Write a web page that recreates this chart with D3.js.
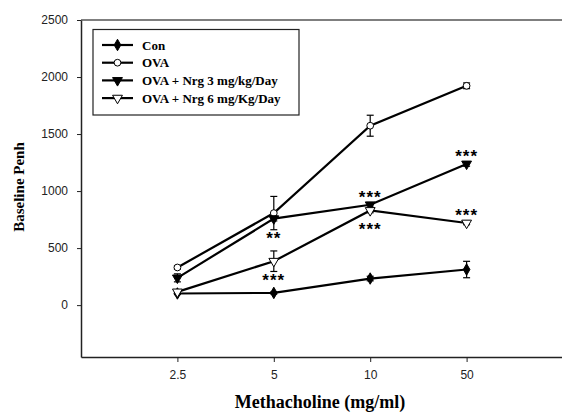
<!DOCTYPE html>
<html>
<head>
<meta charset="utf-8">
<script src="https://cdn.jsdelivr.net/npm/d3@7"></script>
<style>
  body { margin: 0; background: #fff; }
  svg { display: block; }
</style>
</head>
<body>
<div id="chart"></div>
<script>
// data
const doses = ["2.5", "5", "10", "50"];
const yTicks = [0, 500, 1000, 1500, 2000, 2500];
const seriesNames = ["Con", "OVA", "OVA + Nrg 3 mg/kg/Day", "OVA + Nrg 6 mg/Kg/Day"];
const conVals = [102, 107, 233, 312];
const conErr = [10, 10, 20, 72];
const ovaVals = [330, 807, 1573, 1923];
const ovaErr = [15, 146, 92, 25];
const nrg3Vals = [239, 758, 880, 1238];
const nrg3Err = [35, 20, 20, 20];
const nrg6Vals = [116, 385, 830, 720];
const nrg6Err = [10, 90, 20, 15];
// significance marks: [series index, dose index, label, "above"/"below"]
const marks = [
  [2, 1, "**", "below"],
  [3, 1, "***", "below"],
  [2, 2, "***", "above"],
  [3, 2, "***", "below"],
  [2, 3, "***", "above"],
  [3, 3, "***", "above"]
];

const width = 562;
const height = 413;
const margin = { left: 81, top: 20 };

const svg = d3.select("#chart").append("svg").attr("width", width).attr("height", height);

//scales
const x = d3.scaleLinear().domain([0, 5]).range([margin.left, 563]);
const y = d3.scaleLinear().domain([-455, 2500]).range([357, 20]);

const series = [
  { name: seriesNames[0], vals: conVals, err: conErr, symbol: d3.symbolDiamond, fill: "#000", size: 38 },
  { name: seriesNames[1], vals: ovaVals, err: ovaErr, symbol: d3.symbolCircle, fill: "#fff", size: 36 },
  { name: seriesNames[2], vals: nrg3Vals, err: nrg3Err, symbol: d3.symbolTriangle, fill: "#000", size: 42 },
  { name: seriesNames[3], vals: nrg6Vals, err: nrg6Err, symbol: d3.symbolTriangle, fill: "#fff", size: 42 }
];

//frame top line
svg.append("line").attr("x1", margin.left).attr("x2", width).attr("y1", y(2500)).attr("y2", y(2500))
  .attr("stroke", "#555").attr("stroke-width", 1.5);

//y axis
const yAxis = svg.append("g").attr("transform", `translate(${margin.left},0)`)
  .call(d3.axisLeft(y).tickValues(yTicks).tickFormat(d3.format("d")).tickSize(4).tickSizeOuter(0).tickPadding(9));
yAxis.select(".domain").attr("stroke", "#222").attr("stroke-width", 1.5);
yAxis.selectAll(".tick line").attr("stroke", "#222");
yAxis.selectAll("text").attr("font-family", "Liberation Sans, Arial, sans-serif").attr("font-size", 12).attr("fill", "#222");

//x axis
const xAxis = svg.append("g").attr("transform", `translate(0,${y(-455)})`)
  .call(d3.axisBottom(x).tickValues([1, 2, 3, 4]).tickFormat((d, i) => doses[i]).tickSize(5).tickSizeOuter(0).tickPadding(8));
xAxis.select(".domain").attr("stroke", "#222").attr("stroke-width", 1.5);
xAxis.selectAll(".tick line").attr("stroke", "#222");
xAxis.selectAll("text").attr("font-family", "Liberation Sans, Arial, sans-serif").attr("font-size", 12).attr("fill", "#222");

//axis titles
svg.append("text").attr("x", 320).attr("y", 408).attr("text-anchor", "middle")
  .attr("font-family", "Liberation Serif, Times New Roman, serif").attr("font-weight", "bold").attr("font-size", 18)
  .text("Methacholine (mg/ml)");
svg.append("text").attr("transform", "translate(24,187) rotate(-90)").attr("text-anchor", "middle")
  .attr("font-family", "Liberation Serif, Times New Roman, serif").attr("font-weight", "bold").attr("font-size", 15)
  .text("Baseline Penh");

const line = d3.line().x((d, i) => x(i + 1)).y(d => y(d));

const symbolGen = s => d3.symbol().type(s.symbol).size(s.size)();
const rot = s => s.symbol === d3.symbolTriangle ? " rotate(180)" : "";

series.forEach(s => {
  const g = svg.append("g");
  //error bars
  s.vals.forEach((v, i) => {
    const cx = x(i + 1);
    g.append("line").attr("x1", cx).attr("x2", cx).attr("y1", y(v - s.err[i])).attr("y2", y(v + s.err[i]))
      .attr("stroke", "#000").attr("stroke-width", 1.2);
    [v - s.err[i], v + s.err[i]].forEach(e => {
      g.append("line").attr("x1", cx - 3.5).attr("x2", cx + 3.5).attr("y1", y(e)).attr("y2", y(e))
        .attr("stroke", "#000").attr("stroke-width", 1.2);
    });
  });
  g.append("path").datum(s.vals).attr("d", line).attr("fill", "none").attr("stroke", "#000").attr("stroke-width", 2.2);
  g.selectAll("path.pt").data(s.vals).enter().append("path").attr("class", "pt")
    .attr("d", symbolGen(s))
    .attr("transform", (d, i) => `translate(${x(i + 1)},${y(d)})${rot(s)}`)
    .attr("fill", s.fill).attr("stroke", "#000").attr("stroke-width", 1);
});

//significance stars
marks.forEach(([si, di, label, pos]) => {
  const s = series[si];
  const v = s.vals[di];
  const py = pos === "above" ? y(v) - 2 : y(v) + 25;
  svg.append("text").attr("x", x(di + 1)).attr("y", py).attr("text-anchor", "middle")
    .attr("font-family", "Liberation Sans, Arial, sans-serif").attr("font-weight", "bold").attr("font-size", 17)
    .attr("letter-spacing", "1")
    .text(label);
});

//legend
const legend = svg.append("g");
legend.append("rect").attr("x", 93).attr("y", 29.5).attr("width", 206).attr("height", 85.5)
  .attr("fill", "#fff").attr("stroke", "#222").attr("stroke-width", 1.2);
series.forEach((s, i) => {
  const ly = 45 + i * 17.7;
  legend.append("line").attr("x1", 102).attr("x2", 133).attr("y1", ly).attr("y2", ly)
    .attr("stroke", "#000").attr("stroke-width", 2.2);
  legend.append("path").attr("d", symbolGen(s)).attr("transform", `translate(117.5,${ly})${rot(s)}`)
    .attr("fill", s.fill).attr("stroke", "#000").attr("stroke-width", 1);
  legend.append("text").attr("x", 142).attr("y", ly + 4.5)
    .attr("font-family", "Liberation Serif, Times New Roman, serif").attr("font-weight", "bold").attr("font-size", 13)
    .text(s.name);
});
</script>
</body>
</html>
